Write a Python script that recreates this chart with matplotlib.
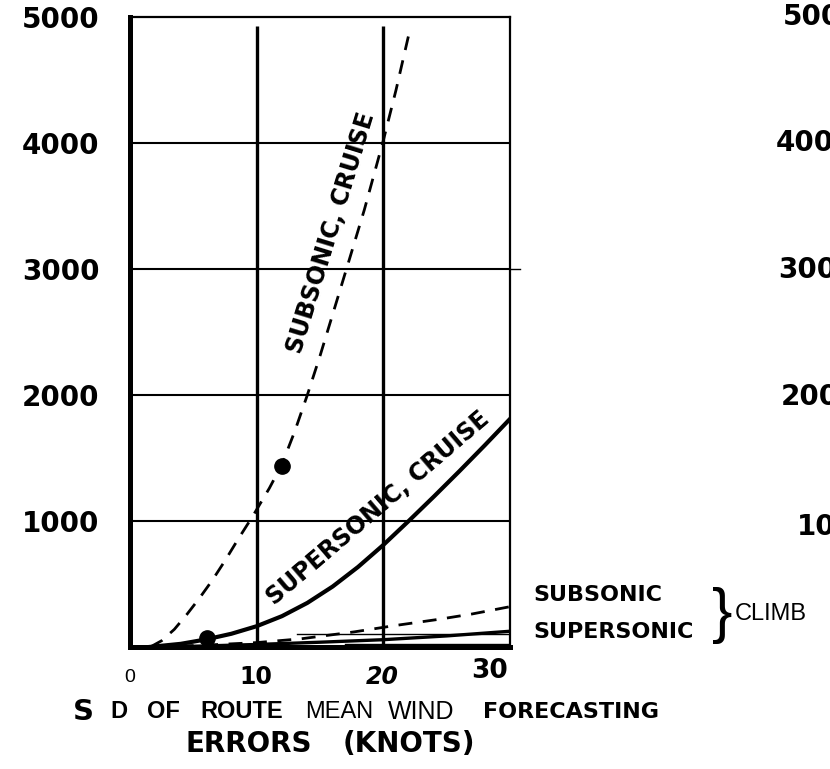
import numpy as np
import matplotlib
matplotlib.use('Agg')
import matplotlib.pyplot as plt

# ── data ──
sub_cruise_x = [1.6, 2.5, 3.5, 4.5, 5.5, 6.5, 7.5, 8.5, 9.7, 11.0, 12.0, 13.0, 14.0,
                15.0, 16.0, 17.3, 18.5, 20.0, 21.0, 22.1]
sub_cruise_y = [0, 50, 140, 260, 390, 530, 685, 850, 1040, 1260, 1450, 1710, 2000,
                2310, 2640, 3070, 3470, 4020, 4420, 4900]

sup_cruise_x = [1.5, 4.0, 6.0, 8.0, 10.0, 12.0, 14.0, 16.0, 18.0, 20.0, 22.0, 24.0,
                26.0, 28.0, 30.0]
sup_cruise_y = [0, 25, 60, 105, 165, 245, 350, 480, 635, 810, 1000, 1195, 1395,
                1600, 1810]

sub_climb_x = [2.0, 6.0, 10.0, 13.5, 17.7, 20.9, 24.4, 27.0, 30.0]
sub_climb_y = [0, 15, 35, 65, 120, 170, 220, 262, 320]

sup_climb_x = [3.0, 10.0, 15.0, 20.0, 25.0, 30.0]
sup_climb_y = [0, 20, 38, 58, 88, 125]

dots_x = [12.0, 6.1]
dots_y = [1440, 70]

y_ticks = [1000, 2000, 3000, 4000, 5000]
y_labels = ['1000', '2000', '3000', '4000', '5000']
x_ticks = [0, 10, 20, 30]
x_labels = ['0', '10', '20', '30']

W, H = 830, 769
fig = plt.figure(figsize=(W / 100, H / 100), dpi=100)
ax = fig.add_axes([130 / W, 122 / H, 380 / W, 630 / H])


def fx(px):
    return px / W


def fy(py):
    return 1 - py / H


ax.set_xlim(0, 30)
ax.set_ylim(0, 5000)

# frame
for side, lw in [('left', 3.6), ('bottom', 3.6), ('top', 1.6), ('right', 1.6)]:
    ax.spines[side].set_linewidth(lw)
    ax.spines[side].set_color('black')

# grid
ax.hlines([1000, 2000, 3000, 4000], 0, 30, color='black', lw=1.5, zorder=1)
ax.vlines([10, 20], 0, 4930, color='black', lw=2.4, zorder=1)
ax.plot([30, 30.8], [3000, 3000], color='black', lw=1.0, clip_on=False)

# curves
ax.plot(sub_cruise_x, sub_cruise_y, color='black', lw=2.0, dashes=(5, 3.8), zorder=3)
ax.plot(sup_cruise_x, sup_cruise_y, color='black', lw=3.0, zorder=3)
ax.plot(sub_climb_x, sub_climb_y, color='black', lw=2.0, dashes=(5, 3.8), zorder=3)
ax.plot(sup_climb_x, sup_climb_y, color='black', lw=2.4, zorder=3)
ax.plot([13.2, 30], [103, 103], color='black', lw=1.0, zorder=3)
ax.plot([17, 30], [24, 24], color='black', lw=1.0, zorder=3)
ax.plot(dots_x, dots_y, 'o', color='black', ms=11, zorder=4, clip_on=False)

# ticks
ax.set_yticks(y_ticks)
ax.set_yticklabels(y_labels, fontsize=20, fontweight='bold')
ax.tick_params(axis='y', length=0, pad=22)
ax.set_xticks([])

xl_style = [
    dict(fontsize=14, family='Liberation Sans'),
    dict(fontsize=17, fontweight='bold'),
    dict(fontsize=17, fontweight='bold', style='italic'),
    dict(fontsize=19, fontweight='bold'),
]
xl_y = [677, 677, 677, 671]
for xv, lab, st, yy in zip(x_ticks, x_labels, xl_style, xl_y):
    px = 130 + xv * 12.6
    if xv == 30:
        px = 490
    fig.text(fx(px), fy(yy), lab, ha='center', va='center', **st)

# inline curve labels
ax.text(15.9, 3286, 'SUBSONIC, CRUISE', rotation=73, ha='center', va='center',
        rotation_mode='anchor', fontsize=17, fontweight='bold', zorder=5)
ax.text(19.6, 1100, 'SUPERSONIC, CRUISE', rotation=40.5, ha='center', va='center',
        rotation_mode='anchor', fontsize=17, fontweight='bold', zorder=5)

# climb labels
fig.text(fx(533), fy(595), 'SUBSONIC', ha='left', va='center', fontsize=16, fontweight='bold')
fig.text(fx(533), fy(632), 'SUPERSONIC', ha='left', va='center', fontsize=16, fontweight='bold')
fig.text(fx(712), fy(616), '}', ha='left', va='center', fontsize=44,
         family='Liberation Sans', fontweight='light')
fig.text(fx(735), fy(614), 'CLIMB', ha='left', va='center', fontsize=17,
         family='Liberation Sans')

# x axis title
lib = 'Liberation Sans'
row1 = [
    (73, 'S', dict(fontsize=21, fontweight='bold')),
    (110, 'D', dict(fontsize=17, fontweight='bold', family=lib)),
    (147, 'OF', dict(fontsize=17, fontweight='bold', family=lib)),
    (200, 'ROUTE', dict(fontsize=17, fontweight='bold', family=lib)),
    (305, 'MEAN', dict(fontsize=17, family=lib)),
    (388, 'WIND', dict(fontsize=18, family=lib)),
    (483, 'FORECASTING', dict(fontsize=16, fontweight='bold')),
]
for px, word, st in row1:
    fig.text(fx(px), fy(712), word, ha='left', va='center', **st)
fig.text(fx(185), fy(744), 'ERRORS', ha='left', va='center', fontsize=20, fontweight='bold')
fig.text(fx(343), fy(744), '(KNOTS)', ha='left', va='center', fontsize=20, fontweight='bold')

# cut-off scale of the neighbouring panel
ghost = [(783, 17, '5000'), (776, 143, '4000'), (778, 270, '3000'),
         (781, 397, '2000'), (797, 527, '1000')]
for px, py, lab in ghost:
    fig.text(fx(px), fy(py), lab, ha='left', va='center', fontsize=20, fontweight='bold')

fig.savefig('out.png', dpi=100)
